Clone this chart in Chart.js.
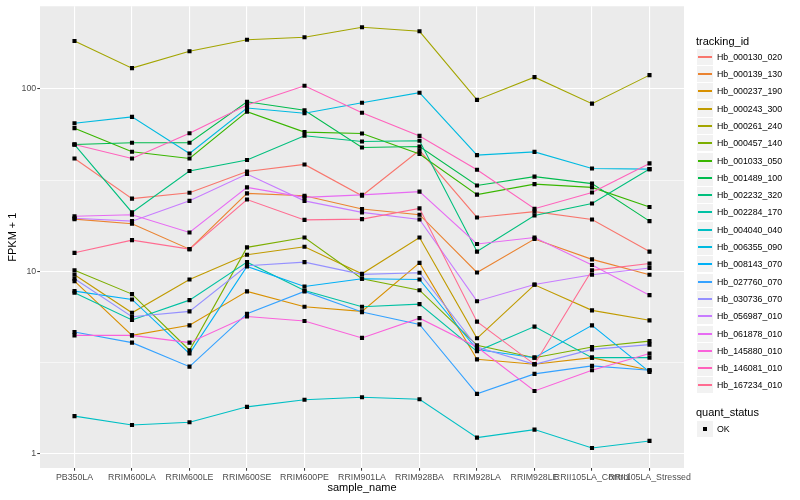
<!DOCTYPE html>
<html>
<head>
<meta charset="utf-8">
<script src="https://cdn.jsdelivr.net/npm/chart.js@4.4.1/dist/chart.umd.min.js"></script>
<style>
  html, body { margin: 0; padding: 0; background: #fff; }
  #wrap { position: relative; width: 800px; height: 500px; font-family: "Liberation Sans", Arial, sans-serif; }
  #chart { position: absolute; left: 0; top: 0; }
  #legend div { position: absolute; white-space: nowrap; color: #000; }
</style>
</head>
<body>
<div id="wrap">
  <canvas id="chart" width="800" height="500"></canvas>
  <div id="legend"></div>
</div>
<script>
// Data (FPKM + 1)
const categories = ['PB350LA', 'RRIM600LA', 'RRIM600LE', 'RRIM600SE', 'RRIM600PE', 'RRIM901LA',
    'RRIM928BA', 'RRIM928LA', 'RRIM928LE', 'RRII105LA_Control', 'RRII105LA_Stressed'];

const hb000130_020 = [41.5, 25.0, 26.9, 35.2, 38.5, 25.9, 46.0, 19.7, 21.2, 19.2, 12.8];
const hb000139_130 = [19.3, 18.2, 13.2, 26.7, 25.9, 21.9, 20.4, 9.83, 15.0, 11.6, 9.55];
const hb000237_190 = [8.81, 4.44, 5.04, 7.74, 6.38, 6.01, 11.1, 3.28, 3.08, 3.35, 2.86];
const hb000243_300 = [9.55, 5.91, 9.0, 12.3, 13.6, 9.67, 15.3, 4.28, 8.41, 6.09, 5.37];
const hb000261_240 = [183, 130, 161, 186, 192, 218, 207, 87, 116, 83, 119];
const hb000457_140 = [10.1, 7.48, 3.68, 13.5, 15.3, 9.08, 7.86, 3.92, 3.35, 3.83, 4.13];
const hb001033_050 = [60.9, 45.2, 41.5, 75.0, 57.9, 56.9, 43.9, 26.3, 30.0, 28.8, 22.5];
const hb001489_100 = [49.5, 50.6, 50.6, 85.0, 76.4, 47.7, 48.3, 29.5, 33.0, 30.2, 18.8];
const hb002232_320 = [49.5, 21.0, 35.4, 40.7, 55.3, 51.4, 51.9, 12.8, 20.2, 23.5, 36.3];
const hb002284_170 = [7.61, 5.39, 6.93, 11.2, 7.83, 6.38, 6.59, 3.63, 4.96, 3.35, 3.35];
const hb004040_040 = [1.60, 1.43, 1.48, 1.80, 1.97, 2.03, 1.98, 1.22, 1.35, 1.07, 1.17];
const hb006355_090 = [64.8, 70.2, 44.2, 78.6, 73.5, 84.0, 95.3, 43.3, 45.1, 36.6, 36.3];
const hb008143_070 = [7.77, 6.99, 3.53, 10.6, 8.24, 9.08, 9.0, 3.71, 3.35, 5.04, 2.80];
const hb027760_070 = [4.63, 4.05, 2.99, 5.84, 7.74, 5.96, 5.10, 2.12, 2.73, 3.02, 2.86];
const hb030736_070 = [9.08, 5.62, 6.01, 10.7, 11.2, 9.6, 9.8, 3.83, 3.08, 3.72, 3.95];
const hb056987_010 = [19.5, 18.8, 24.3, 34.1, 24.3, 21.0, 19.2, 6.84, 8.45, 9.55, 10.4];
const hb061878_010 = [20.0, 20.4, 16.3, 28.8, 25.4, 26.2, 27.3, 14.1, 15.3, 10.8, 7.38];
const hb145880_010 = [4.44, 4.44, 4.05, 5.64, 5.32, 4.30, 5.52, 3.83, 2.20, 2.86, 3.53];
const hb146081_010 = [49.5, 41.5, 57.1, 81.6, 104, 74.0, 55.2, 36.0, 22.0, 27.0, 39.0];
const hb167234_010 = [12.6, 14.8, 13.2, 24.7, 19.1, 19.3, 22.1, 5.28, 3.08, 10.1, 11.0];

const trackingIds = ['Hb_000130_020', 'Hb_000139_130', 'Hb_000237_190', 'Hb_000243_300', 'Hb_000261_240',
    'Hb_000457_140', 'Hb_001033_050', 'Hb_001489_100', 'Hb_002232_320', 'Hb_002284_170',
    'Hb_004040_040', 'Hb_006355_090', 'Hb_008143_070', 'Hb_027760_070', 'Hb_030736_070',
    'Hb_056987_010', 'Hb_061878_010', 'Hb_145880_010', 'Hb_146081_010', 'Hb_167234_010'];
const seriesValues = [hb000130_020, hb000139_130, hb000237_190, hb000243_300, hb000261_240,
    hb000457_140, hb001033_050, hb001489_100, hb002232_320, hb002284_170,
    hb004040_040, hb006355_090, hb008143_070, hb027760_070, hb030736_070,
    hb056987_010, hb061878_010, hb145880_010, hb146081_010, hb167234_010];

const yTickValues = [1, 10, 100];
const yMinorValues = [3.1623, 31.623];

// ggplot hue palette, 20 levels
const lineColors = ['#F8766D', '#EA8331', '#D89000', '#C09B00', '#A3A500', '#7CAE00', '#39B600', '#00BB4E',
    '#00BF7D', '#00C1A3', '#00BFC4', '#00BAE0', '#00B0F6', '#35A2FF', '#9590FF', '#C77CFF',
    '#E76BF3', '#FA62DB', '#FF62BC', '#FF6C91'];

const fontFamily = '"Liberation Sans", Arial, sans-serif';
Chart.defaults.font.family = fontFamily;

const lineSets = trackingIds.map((id, i) => ({
    label: id,
    data: seriesValues[i].map((v, j) => ({ x: j, y: v })),
    borderColor: lineColors[i],
    backgroundColor: lineColors[i],
    borderWidth: 1.1,
    pointRadius: 0,
    tension: 0,
    fill: false,
    order: 100 - i
}));

const pointSet = {
    type: 'scatter',
    label: 'OK',
    data: seriesValues.flatMap(vals => vals.map((v, j) => ({ x: j, y: v }))),
    pointStyle: 'rect',
    pointRadius: 2.9,
    backgroundColor: '#000',
    borderWidth: 0,
    order: 0
};

// grey panel behind the grid
const panelBg = {
    id: 'panelBg',
    beforeDraw(chart) {
        const { ctx, chartArea: a } = chart;
        ctx.save();
        ctx.fillStyle = '#EBEBEB';
        ctx.fillRect(a.left, a.top, a.right - a.left, a.bottom - a.top);
        ctx.restore();
    }
};

const isMajor = v => yTickValues.includes(v);

new Chart(document.getElementById('chart').getContext('2d'), {
    type: 'line',
    data: { datasets: [...lineSets, pointSet] },
    plugins: [panelBg],
    options: {
        responsive: false,
        animation: false,
        layout: { padding: { left: 0, right: 116, top: 5, bottom: 0 } },
        plugins: { legend: { display: false }, tooltip: { enabled: false } },
        scales: {
            x: {
                type: 'linear',
                min: -0.6,
                max: 10.6,
                afterBuildTicks: s => { s.ticks = categories.map((c, i) => ({ value: i })); },
                afterFit: s => { s.height = 32; },
                ticks: {
                    autoSkip: false, maxRotation: 0, minRotation: 0, padding: 1.2,
                    color: '#4D4D4D', font: { size: 8.8 },
                    callback: v => categories[v]
                },
                grid: { color: '#fff', lineWidth: 1.1, tickLength: 2.75, tickColor: '#333', tickWidth: 1 },
                border: { display: false },
                title: { display: true, text: 'sample_name', color: '#000', font: { size: 11 }, padding: { top: 0, bottom: 5.4 } }
            },
            y: {
                type: 'logarithmic',
                min: 0.831,
                max: 284,
                afterBuildTicks: s => {
                    s.ticks = [...yTickValues, ...yMinorValues].sort((a, b) => a - b).map(v => ({ value: v }));
                },
                afterFit: s => { s.width = 40; },
                ticks: {
                    padding: 1, color: '#4D4D4D', font: { size: 8.8 },
                    callback: v => isMajor(v) ? String(v) : ''
                },
                grid: {
                    color: '#fff',
                    lineWidth: c => isMajor(c.tick.value) ? 1.1 : 0.55,
                    tickLength: 2.75,
                    tickColor: c => isMajor(c.tick.value) ? '#333' : 'rgba(0,0,0,0)',
                    tickWidth: 1
                },
                border: { display: false },
                title: { display: true, text: 'FPKM + 1', color: '#000', font: { size: 11 }, padding: { top: 6, bottom: 0 } }
            }
        }
    }
});

// ggplot style legends on the right
const legendEl = document.getElementById('legend');
function addDiv(css, text) {
    const d = document.createElement('div');
    d.style.cssText = css;
    if (text) d.textContent = text;
    legendEl.appendChild(d);
    return d;
}
addDiv('left:696px;top:34px;font-size:11px;line-height:14px;', 'tracking_id');
trackingIds.forEach((id, i) => {
    const cy = 56.7 + i * 17.3;
    const top = Math.round(cy - 8);
    const key = addDiv(`left:697px;top:${top}px;width:16px;height:16px;background:#F2F2F2;`);
    const line = document.createElement('div');
    line.style.cssText = `position:absolute;left:1px;width:14px;top:7px;height:1.5px;background:${lineColors[i]};`;
    key.appendChild(line);
    addDiv(`left:717px;top:${cy - 6}px;font-size:8.8px;line-height:12px;`, id);
});
addDiv('left:696px;top:405.3px;font-size:11px;line-height:14px;', 'quant_status');
const okKey = addDiv('left:697px;top:421px;width:16px;height:16px;background:#F2F2F2;');
const sq = document.createElement('div');
sq.style.cssText = 'position:absolute;left:6px;top:6px;width:4px;height:4px;background:#000;';
okKey.appendChild(sq);
addDiv('left:717px;top:423.3px;font-size:8.8px;line-height:12px;', 'OK');
</script>
</body>
</html>
